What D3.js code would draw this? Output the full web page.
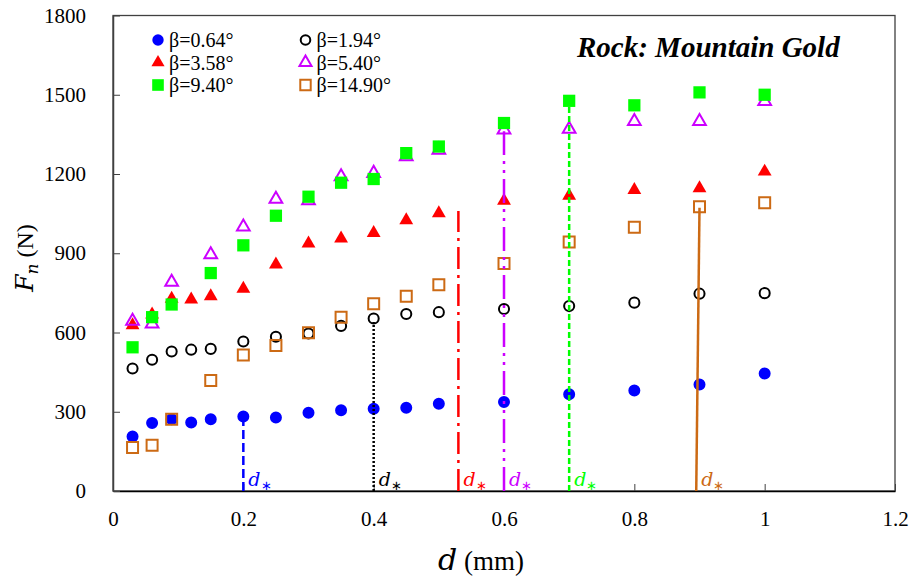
<!DOCTYPE html>
<html>
<head>
<meta charset="utf-8">
<script src="https://cdn.jsdelivr.net/npm/d3@7"></script>
<style>
  body { margin: 0; background: #fff; }
  svg { display: block; }
  text { font-family: "Liberation Serif", "Times New Roman", serif; fill: #000; }
</style>
</head>
<body>
<svg id="chart" width="915" height="578"></svg>
<script>
// depth of cut d (mm)
const depths = [0.03, 0.06, 0.09, 0.12, 0.15, 0.2, 0.25, 0.3, 0.35, 0.4, 0.45, 0.5, 0.6, 0.7, 0.8, 0.9, 1.0];

// normal force Fn (N) for each back rake angle, null = no measurement
const fnBeta064 = [206, 257, 272, 259, 272, 282, 278, 296, 306, 311, 315, 330, 337, 366, 380, 403, 445];
const fnBeta194 = [464, 497, 528, 535, 538, 566, 584, 596, 625, 653, 670, 677, 689, 700, 713, 747, 749];
const fnBeta358 = [627, 668, 728, 725, 737, 766, 857, 937, 956, 977, 1025, 1051, 1099, 1118, 1139, 1146, 1209];
const fnBeta540 = [643, 633, 791, null, 895, 1000, 1105, 1099, 1190, 1203, 1266, 1291, 1367, 1370, 1399, 1399, 1475];
const fnBeta940 = [544, 658, 706, null, 825, 930, 1042, 1114, 1167, 1181, 1279, 1304, 1393, 1477, 1460, 1509, 1500];
const fnBeta1490 = [165, 173, 272, null, 418, 515, 551, 599, 658, 709, 737, 781, 861, 943, 998, 1076, 1091];

const betaLabels = ["β=0.64°", "β=1.94°", "β=3.58°", "β=5.40°", "β=9.40°", "β=14.90°"];

// critical depth d* markers: x at bottom, x at top, force at top
const dStarBottom = [0.2, 0.4, 0.53, 0.6, 0.7, 0.895];
const dStarTop = [0.2, 0.4, 0.53, 0.6, 0.7, 0.9];
const dStarForce = [268, 640, 1060, 1362, 1470, 1072];

const xTicks = [0, 0.2, 0.4, 0.6, 0.8, 1, 1.2];
const yTicks = [0, 300, 600, 900, 1200, 1500, 1800];

const serif = '"Liberation Serif", "Times New Roman", serif';
const mathItalic = '"DejaVu Serif", serif';

const styles = [
    { color: "#0000FF", shape: d3.symbolCircle, fill: true, size: 113, dash: "9,4" },
    { color: "#000000", shape: d3.symbolCircle, fill: false, size: 80, dash: "2,2" },
    { color: "#FF0000", shape: d3.symbolTriangle, fill: true, size: 83, dash: "22,6,3,6" },
    { color: "#CC00FF", shape: d3.symbolTriangle, fill: false, size: 70, dash: "24,6,3,6,3,6" },
    { color: "#00FF00", shape: d3.symbolSquare, fill: true, size: 150, dash: "6,3" },
    { color: "#CC6A14", shape: d3.symbolSquare, fill: false, size: 121, dash: null }
];

const seriesValues = [fnBeta064, fnBeta194, fnBeta358, fnBeta540, fnBeta940, fnBeta1490];
const series = seriesValues.map((vals, i) => ({
    label: betaLabels[i],
    style: styles[i],
    points: depths.map((d, j) => ({ d: d, f: vals[j] })).filter(p => p.f !== null)
}));

const margin = { left: 113, right: 20, top: 15.5, bottom: 87 };
const svg = d3.select('#chart');
const width = +svg.attr('width');
const height = +svg.attr('height');

const x = d3.scaleLinear().domain([0, 1.2]).range([margin.left, width - margin.right]);
const y = d3.scaleLinear().domain([0, 1800]).range([height - margin.bottom, margin.top]);

const axisColor = "#404040";

// plot frame
svg.append("rect")
    .attr("x", x(0)).attr("y", y(1800))
    .attr("width", x(1.2) - x(0)).attr("height", y(0) - y(1800))
    .attr("fill", "none").attr("stroke", axisColor).attr("stroke-width", 1.3);

// axes, ticks pointing inward
const xAxis = svg.append("g")
    .attr("transform", "translate(0," + y(0) + ")")
    .call(d3.axisBottom(x).tickValues(xTicks).tickSizeInner(-7).tickSizeOuter(0).tickPadding(20)
        .tickFormat(d => String(+d.toFixed(1))));
xAxis.select(".domain").attr("stroke", "#000").attr("stroke-width", 1.5);
xAxis.selectAll(".tick line").attr("stroke", axisColor);
xAxis.selectAll(".tick text").style("font-size", "21px").style("font-family", serif);

const yAxis = svg.append("g")
    .attr("transform", "translate(" + x(0) + ",0)")
    .call(d3.axisLeft(y).tickValues(yTicks).tickSizeInner(-7).tickSizeOuter(0).tickPadding(27)
        .tickFormat(d3.format("d")));
yAxis.select(".domain").attr("stroke", axisColor).attr("stroke-width", 1.5);
yAxis.selectAll(".tick line").attr("stroke", axisColor);
yAxis.selectAll(".tick text").style("font-size", "21px").style("font-family", serif);

// markers
const symbol = d3.symbol();
series.forEach(s => {
    svg.append("g").selectAll("path")
        .data(s.points)
        .enter().append("path")
        .attr("transform", p => "translate(" + x(p.d) + "," + y(p.f) + ")")
        .attr("d", symbol.type(s.style.shape).size(s.style.size))
        .attr("fill", s.style.fill ? s.style.color : "none")
        .attr("stroke", s.style.color)
        .attr("stroke-width", s.style.fill ? 0 : 2);
});

// d* vertical lines and labels
const dStar = dStarBottom.map((xb, i) => ({ xb: xb, xt: dStarTop[i], f: dStarForce[i], style: styles[i] }));
const dg = svg.append("g");
dStar.forEach(ds => {
    dg.append("line")
        .attr("x1", x(ds.xb)).attr("y1", y(0))
        .attr("x2", x(ds.xt)).attr("y2", y(ds.f))
        .attr("stroke", ds.style.color)
        .attr("stroke-width", 2.5)
        .attr("stroke-dasharray", ds.style.dash);
    const t = dg.append("text")
        .attr("x", x(ds.xb) + 5)
        .attr("y", y(0) - 5)
        .style("fill", ds.style.color);
    t.append("tspan").style("font-style", "italic").style("font-family", mathItalic).style("font-size", "19px").text("d");
    t.append("tspan").style("font-size", "13px").attr("dy", 4).text("∗");
});

// legend
const legend = svg.append("g");
const legCols = [158, 305.5];
const legRows = [40, 62.5, 85];
series.forEach((s, i) => {
    const lx = legCols[i % 2], ly = legRows[Math.floor(i / 2)];
    legend.append("path")
        .attr("transform", "translate(" + lx + "," + ly + ")")
        .attr("d", d3.symbol().type(s.style.shape).size(s.style.size * 0.9)())
        .attr("fill", s.style.fill ? s.style.color : "none")
        .attr("stroke", s.style.color)
        .attr("stroke-width", s.style.fill ? 0 : 2);
    legend.append("text")
        .attr("x", lx + 11).attr("y", ly + 7)
        .style("font-size", "20px").style("font-family", serif)
        .text(s.label);
});

// annotation
svg.append("text")
    .attr("x", 577).attr("y", 57)
    .style("font-size", "29px").style("font-weight", "bold").style("font-style", "italic")
    .style("font-family", serif)
    .text("Rock: Mountain Gold");

// axis titles
const xt = svg.append("text")
    .attr("x", 481).attr("y", 570)
    .attr("text-anchor", "middle");
xt.append("tspan").style("font-style", "italic").style("font-family", mathItalic).style("font-size", "30px").text("d");
xt.append("tspan").style("font-family", serif).style("font-size", "27px").text(" (mm)");

const yt = svg.append("text")
    .attr("transform", "translate(33,258) rotate(-90)")
    .attr("text-anchor", "middle");
yt.append("tspan").style("font-style", "italic").style("font-family", mathItalic).style("font-size", "25px").text("F");
yt.append("tspan").style("font-style", "italic").style("font-family", mathItalic).style("font-size", "17px").attr("dy", 5).text("n");
yt.append("tspan").style("font-family", serif).style("font-size", "24px").attr("dy", -5).text(" (N)");
</script>
</body>
</html>
